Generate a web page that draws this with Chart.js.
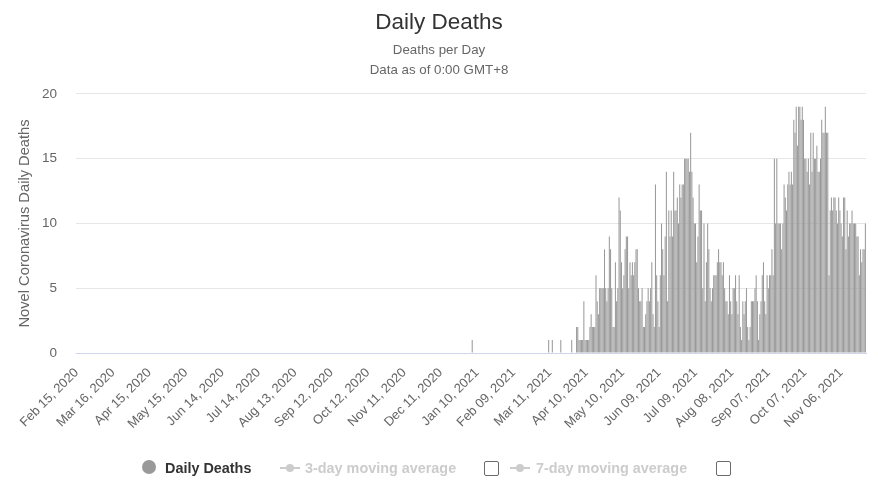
<!DOCTYPE html>
<html>
<head>
<meta charset="utf-8">
<script src="https://cdn.jsdelivr.net/npm/chart.js@4.4.0/dist/chart.umd.min.js"></script>
<style>
html,body{margin:0;padding:0;background:#fff;}
#wrap{position:relative;width:878px;height:500px;overflow:hidden;}
#legend{position:absolute;left:0;top:0;width:878px;height:500px;pointer-events:none;font-family:'Liberation Sans',Arial,sans-serif;font-size:14.4px;font-weight:bold;}
#legend .t{position:absolute;top:460px;line-height:16px;white-space:nowrap;}
#legend .dot{position:absolute;border-radius:50%;}
#legend .ln{position:absolute;height:2px;}
#legend .cb{position:absolute;top:461px;width:13px;height:13px;border:1.5px solid #6b6b6b;border-radius:2px;background:#fff;}
</style>
</head>
<body>
<div id="wrap">
<canvas id="c" width="878" height="500"></canvas>
<div id="legend">
  <div class="dot" style="left:142px;top:460px;width:14px;height:14px;background:#999;"></div>
  <div class="t" style="left:165px;color:#333;">Daily Deaths</div>
  <div class="ln" style="left:280px;top:467px;width:20px;background:#ccc;"></div>
  <div class="dot" style="left:286px;top:464px;width:8px;height:8px;background:#ccc;"></div>
  <div class="t" style="left:305px;color:#ccc;">3-day moving average</div>
  <div class="cb" style="left:484px;"></div>
  <div class="ln" style="left:510px;top:467px;width:20px;background:#ccc;"></div>
  <div class="dot" style="left:516px;top:464px;width:8px;height:8px;background:#ccc;"></div>
  <div class="t" style="left:536px;color:#ccc;">7-day moving average</div>
  <div class="cb" style="left:716px;"></div>
</div>
</div>
<script>
// ---- data ----
const startDate = [2020, 1, 15]; // Feb 15, 2020 (month is 0-based)
const dayCount = 651;            // Feb 15, 2020 .. Nov 26, 2021
const tickEvery = 30;
const tickLabels = ['Feb 15, 2020','Mar 16, 2020','Apr 15, 2020','May 15, 2020','Jun 14, 2020','Jul 14, 2020',
  'Aug 13, 2020','Sep 12, 2020','Oct 12, 2020','Nov 11, 2020','Dec 11, 2020','Jan 10, 2021','Feb 09, 2021',
  'Mar 11, 2021','Apr 10, 2021','May 10, 2021','Jun 09, 2021','Jul 09, 2021','Aug 08, 2021','Sep 07, 2021',
  'Oct 07, 2021','Nov 06, 2021'];
const dailyDeaths = [
  // Feb 15, 2020 - Jan 05, 2021 (326 days)
  0,0,0,0,0,0,0,0,0,0,0,0,0,0,0,0,0,0,0,0,0,0,0,0,0,0,0,0,0,0,
  0,0,0,0,0,0,0,0,0,0,0,0,0,0,0,0,0,0,0,0,0,0,0,0,0,0,0,0,0,0,
  0,0,0,0,0,0,0,0,0,0,0,0,0,0,0,0,0,0,0,0,0,0,0,0,0,0,0,0,0,0,
  0,0,0,0,0,0,0,0,0,0,0,0,0,0,0,0,0,0,0,0,0,0,0,0,0,0,0,0,0,0,
  0,0,0,0,0,0,0,0,0,0,0,0,0,0,0,0,0,0,0,0,0,0,0,0,0,0,0,0,0,0,
  0,0,0,0,0,0,0,0,0,0,0,0,0,0,0,0,0,0,0,0,0,0,0,0,0,0,0,0,0,0,
  0,0,0,0,0,0,0,0,0,0,0,0,0,0,0,0,0,0,0,0,0,0,0,0,0,0,0,0,0,0,
  0,0,0,0,0,0,0,0,0,0,0,0,0,0,0,0,0,0,0,0,0,0,0,0,0,0,0,0,0,0,
  0,0,0,0,0,0,0,0,0,0,0,0,0,0,0,0,0,0,0,0,0,0,0,0,0,0,0,0,0,0,
  0,0,0,0,0,0,0,0,0,0,0,0,0,0,0,0,0,0,0,0,0,0,0,0,0,0,0,0,0,0,
  0,0,0,0,0,0,0,0,0,0,0,0,0,0,0,0,0,0,0,0,0,0,0,0,0,0,
  // Jan 06, 2021
  1,
  // Jan 07 - Mar 09, 2021 (62 days)
  0,0,0,0,0,0,0,0,0,0,0,0,0,0,0,0,0,0,0,0,0,0,0,0,0,0,0,0,0,0,
  0,0,0,0,0,0,0,0,0,0,0,0,0,0,0,0,0,0,0,0,0,0,0,0,0,0,0,0,0,0,
  0,0,
  // Mar 10 - Apr 01, 2021
  1,0,0,1,0,0,0,0,0,0,1,0,0,0,0,0,0,0,0,1,0,0,0,
  // Apr 02, 2021 onwards
  2,2,1,1,1,1,4,1,1,1,
  1,2,3,2,2,2,6,4,3,5,
  5,5,5,8,5,4,5,9,8,5,
  2,2,7,4,5,12,11,7,5,6,
  8,9,9,5,7,6,7,6,7,8,
  8,5,4,4,5,2,2,3,4,5,
  4,5,7,3,2,13,6,4,2,6,
  10,8,6,9,14,4,11,9,11,9,
  14,11,11,12,10,13,12,13,13,15,
  15,15,15,14,17,14,12,10,10,7,
  9,13,11,11,5,10,4,7,10,8,
  5,4,5,6,6,6,7,8,7,7,
  6,7,5,4,4,3,6,4,3,5,
  5,6,4,3,6,2,1,4,3,4,
  5,2,1,2,4,4,4,5,6,4,
  1,3,4,6,7,4,3,6,5,6,
  6,8,6,15,10,15,10,10,10,8,
  10,13,12,11,13,14,13,14,13,18,
  17,19,16,19,19,18,19,18,15,15,
  14,15,13,17,14,17,15,15,16,14,
  14,15,18,17,17,19,17,17,6,11,
  12,11,12,12,11,10,12,11,10,9,
  12,12,8,11,9,10,10,11,10,10,
  10,9,9,6,8,7,8,8,10
];

// ---- categories (one per day) ----
const monthNames = ['Jan','Feb','Mar','Apr','May','Jun','Jul','Aug','Sep','Oct','Nov','Dec'];
const categories = [];
for (let i = 0; i < dayCount; i++) {
  const d = new Date(Date.UTC(startDate[0], startDate[1], startDate[2] + i));
  categories.push(monthNames[d.getUTCMonth()] + ' ' + String(d.getUTCDate()).padStart(2,'0') + ', ' + d.getUTCFullYear());
}

const FONT = "'Liberation Sans', Arial, sans-serif";

new Chart(document.getElementById('c'), {
  type: 'bar',
  data: {
    labels: categories,
    datasets: [{
      label: 'Daily Deaths',
      data: dailyDeaths,
      backgroundColor: '#999999',
      borderWidth: 0,
      barPercentage: 0.85,
      categoryPercentage: 1.0
    }]
  },
  options: {
    responsive: false,
    animation: false,
    layout: { padding: { left: 12, right: 12, top: 0, bottom: 0 } },
    plugins: {
      legend: { display: false },
      title: {
        display: true, text: 'Daily Deaths', color: '#333333',
        font: { family: FONT, size: 22.5, weight: 'normal', lineHeight: 1.2 },
        padding: { top: 9, bottom: 4 }
      },
      subtitle: {
        display: true, text: ['Deaths per Day', 'Data as of 0:00 GMT+8'], color: '#666666',
        font: { family: FONT, size: 13.3, lineHeight: 1.5 },
        padding: { top: 0, bottom: 14 }
      }
    },
    scales: {
      x: {
        type: 'category',
        grid: { display: false, drawTicks: false },
        border: { display: true, color: '#ccd6eb', width: 1 },
        ticks: {
          autoSkip: false, maxRotation: 45, minRotation: 45,
          color: '#666666', font: { family: FONT, size: 13 }, padding: 12,
          callback: function(v, i) { return (i % tickEvery === 0) ? tickLabels[i / tickEvery] : null; }
        },
        afterFit: function(s) { s.height = 147; }
      },
      y: {
        min: 0, max: 20,
        ticks: { stepSize: 5, color: '#666666', font: { family: FONT, size: 13.5 }, padding: 19 },
        grid: { color: '#e6e6e6', drawTicks: false },
        border: { display: false },
        title: {
          display: true, text: 'Novel Coronavirus Daily Deaths', color: '#666666',
          font: { family: FONT, size: 14.7 }, padding: { top: 4, bottom: 0 }
        },
        afterFit: function(s) { s.width = 64; }
      }
    }
  }
});
</script>
</body>
</html>
